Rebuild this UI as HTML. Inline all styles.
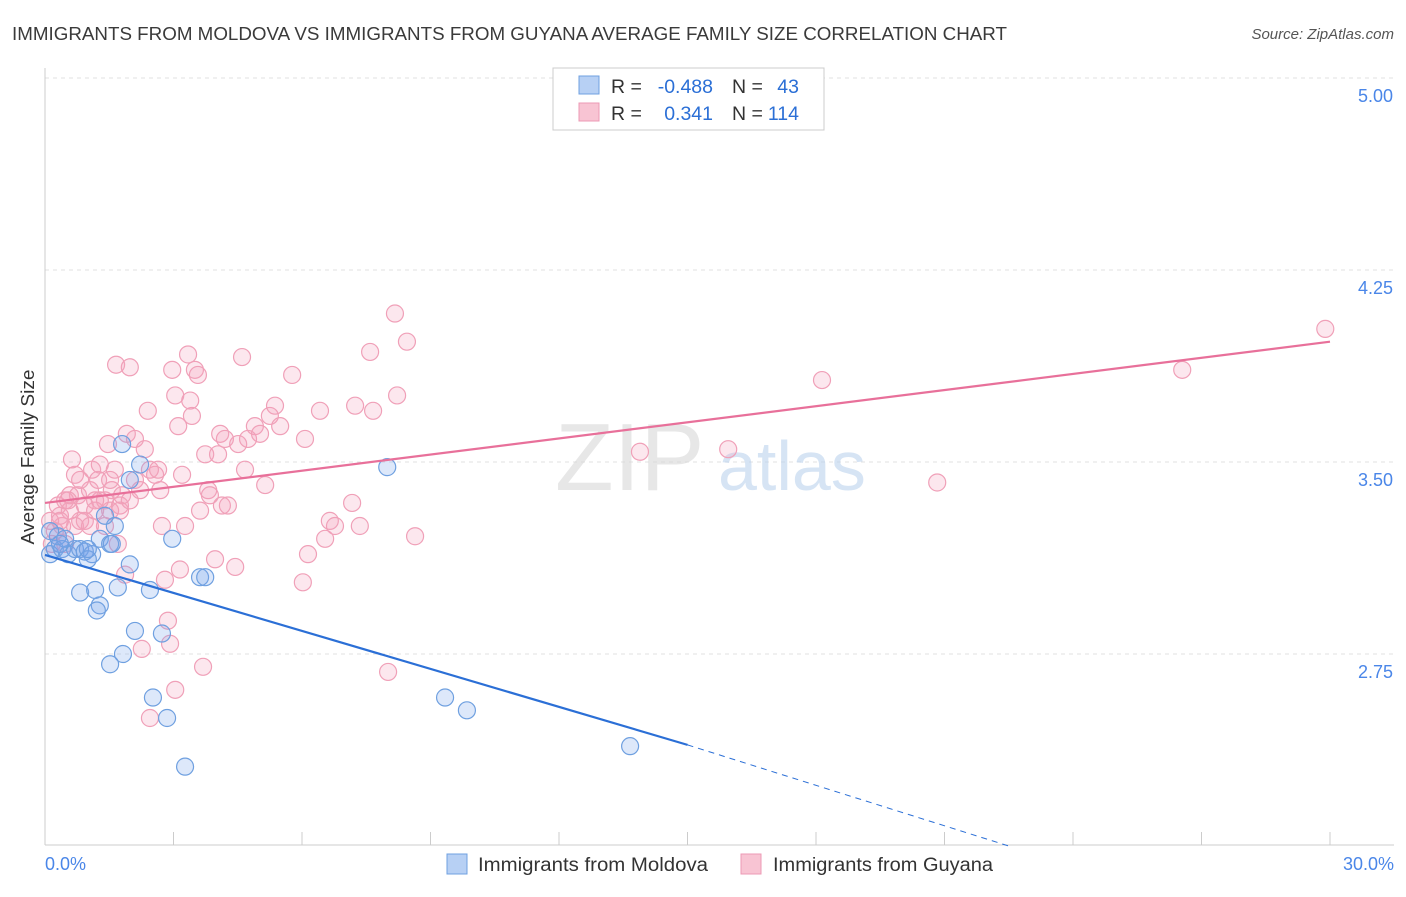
<!DOCTYPE html>
<html><head><meta charset="utf-8">
<style>
body{margin:0;background:#fff;font-family:"Liberation Sans",sans-serif;}
svg text{font-family:"Liberation Sans",sans-serif;}
</style></head>
<body>
<svg id="chart" width="1406" height="892" viewBox="0 0 1406 892" xmlns="http://www.w3.org/2000/svg">
<text x="12" y="40" font-size="18.5" fill="#3a3a3a" textLength="995" lengthAdjust="spacingAndGlyphs">IMMIGRANTS FROM MOLDOVA VS IMMIGRANTS FROM GUYANA AVERAGE FAMILY SIZE CORRELATION CHART</text>
<text x="1394" y="39" font-size="15" fill="#555" font-style="italic" text-anchor="end">Source: ZipAtlas.com</text>
<g id="grid"></g>
<text x="555" y="490" font-size="96" fill="#d8d8d8" font-family="Liberation Serif" opacity="0.6">ZIP</text>
<text x="718" y="490" font-size="70" fill="#bcd3ee" opacity="0.6">atlas</text>
<g id="points"></g>
<g id="trends"></g>
<text transform="translate(34,457) rotate(-90)" font-size="18" fill="#333" text-anchor="middle" textLength="175" lengthAdjust="spacingAndGlyphs">Average Family Size</text>
<g>
<rect x="553" y="68" width="271" height="62" fill="#fff" stroke="#ccc"/>
<rect x="579" y="76" width="20" height="18" fill="#b7d0f4" stroke="#6fa0e0"/>
<rect x="579" y="103" width="20" height="18" fill="#f8c4d3" stroke="#ec9ab4"/>
<text x="611" y="93" font-size="19.5" fill="#333">R =</text>
<text x="713" y="93" font-size="19.5" fill="#2b6fd6" text-anchor="end">-0.488</text>
<text x="732" y="93" font-size="19.5" fill="#333">N =</text>
<text x="799" y="93" font-size="19.5" fill="#2b6fd6" text-anchor="end">43</text>
<text x="611" y="120" font-size="19.5" fill="#333">R =</text>
<text x="713" y="120" font-size="19.5" fill="#2b6fd6" text-anchor="end">0.341</text>
<text x="732" y="120" font-size="19.5" fill="#333">N =</text>
<text x="799" y="120" font-size="19.5" fill="#2b6fd6" text-anchor="end">114</text>
</g>
<g>
<rect x="447" y="854" width="20" height="20" fill="#b7d0f4" stroke="#6fa0e0"/>
<text x="478" y="871" font-size="19" fill="#333" textLength="230" lengthAdjust="spacingAndGlyphs">Immigrants from Moldova</text>
<rect x="741" y="854" width="20" height="20" fill="#f8c4d3" stroke="#ec9ab4"/>
<text x="773" y="871" font-size="19" fill="#333" textLength="220" lengthAdjust="spacingAndGlyphs">Immigrants from Guyana</text>
</g>
</svg>
<script>
const yTicks=[5.00,4.25,3.50,2.75];
const yTickLabels=["5.00","4.25","3.50","2.75"];
const xTickLabels=["0.0%","30.0%"];
const moldovaX=[0.12,0.23,0.40,0.54,0.70,0.82,0.93,1.10,0.30,0.47,1.28,1.52,1.00,1.98,1.80,2.22,1.63,1.56,1.98,0.82,1.17,1.28,1.21,1.70,2.45,2.97,3.62,3.74,2.10,2.73,1.82,1.52,2.52,2.85,3.27,7.99,9.34,9.85,13.66,0.12,0.35,1.40,1.00];
const moldovaY=[3.14,3.16,3.16,3.14,3.16,3.16,3.15,3.14,3.21,3.20,3.20,3.18,3.12,3.43,3.57,3.49,3.25,3.18,3.10,2.99,3.00,2.94,2.92,3.01,3.00,3.20,3.05,3.05,2.84,2.83,2.75,2.71,2.58,2.50,2.31,3.48,2.58,2.53,2.39,3.23,3.18,3.29,3.16];
const guyanaX=[0.12,0.23,0.35,0.16,0.30,0.40,0.47,0.58,0.70,0.63,0.77,0.82,0.93,1.05,1.10,1.17,1.24,1.28,1.40,1.47,1.52,1.56,1.63,1.70,1.75,1.80,1.87,1.91,1.98,2.10,2.22,2.33,2.40,2.45,2.57,2.64,2.69,2.73,2.80,2.87,2.92,2.97,3.04,3.11,3.15,3.20,3.27,3.34,3.39,3.43,3.50,3.57,3.62,3.74,3.81,3.85,3.97,4.04,4.09,4.13,4.20,4.27,4.44,4.51,4.60,4.67,4.74,4.90,5.02,5.14,5.25,5.37,5.49,5.77,6.07,6.14,6.02,6.42,6.54,6.65,6.77,7.17,7.24,7.35,7.59,7.66,8.17,8.22,8.45,8.64,8.01,13.89,15.95,18.14,20.83,26.55,29.89,1.66,1.98,2.45,3.04,3.69,2.26,2.10,0.93,0.58,0.35,1.28,1.75,1.52,0.82,1.17,0.54,0.70,1.40,0.47,1.05];
const guyanaY=[3.27,3.23,3.29,3.18,3.33,3.25,3.35,3.31,3.45,3.51,3.37,3.27,3.33,3.39,3.47,3.31,3.43,3.49,3.35,3.57,3.31,3.39,3.47,3.18,3.33,3.37,3.06,3.61,3.35,3.43,3.39,3.55,3.70,3.47,3.45,3.47,3.39,3.25,3.04,2.88,2.79,3.86,3.76,3.64,3.08,3.45,3.25,3.92,3.74,3.68,3.86,3.84,3.31,3.53,3.39,3.37,3.12,3.53,3.61,3.33,3.59,3.33,3.09,3.57,3.91,3.47,3.59,3.64,3.61,3.41,3.68,3.72,3.64,3.84,3.59,3.14,3.03,3.70,3.20,3.27,3.25,3.34,3.72,3.25,3.93,3.70,4.08,3.76,3.97,3.21,2.68,3.54,3.55,3.82,3.42,3.86,4.02,3.88,3.87,2.50,2.61,2.70,2.77,3.59,3.27,3.37,3.27,3.35,3.31,3.43,3.43,3.35,3.35,3.25,3.25,3.18,3.25];
const moldovaTrend=[[0,3.137],[15,2.395],[22.5,2.00]];
const guyanaTrend=[[0,3.34],[30,3.97]];

const NS="http://www.w3.org/2000/svg";
const X=v=>45+v*(1285/30);
const Y=v=>462-(v-3.5)*256;
function mk(t,a,p){const e=document.createElementNS(NS,t);for(const k in a)e.setAttribute(k,a[k]);p.appendChild(e);return e;}
const grid=document.getElementById('grid');
yTicks.forEach((t,i)=>{
  const l=mk('line',{x1:45,x2:1394,y1:Y(t),y2:Y(t),stroke:'#e2e2e2','stroke-dasharray':'4,4'},grid);
  
  
  const tx=mk('text',{x:1393,y:Y(t)+24,'font-size':18,fill:'#4a86e8','text-anchor':'end'},grid);
  tx.textContent=yTickLabels[i];
  
  
});
const ax=mk('line',{x1:45,x2:1394,y1:845,y2:845,stroke:'#ccc'},grid);


const ay=mk('line',{x1:45,x2:45,y1:68,y2:845,stroke:'#ccc'},grid);


for(let i=0;i<=10;i++){
  const t=mk('line',{x1:X(i*3),x2:X(i*3),y1:845,y2:832,stroke:'#ccc'},grid);
  
  
}
const xl0=mk('text',{x:45,y:870,'font-size':18,fill:'#4a86e8'},grid);
xl0.textContent=xTickLabels[0];


const xl1=mk('text',{x:1394,y:870,'font-size':18,fill:'#4a86e8','text-anchor':'end'},grid);
xl1.textContent=xTickLabels[1];



const pts=document.getElementById('points');
guyanaX.forEach((x,i)=>{
  const c=mk('circle',{cx:X(x),cy:Y(guyanaY[i]),r:8.5,fill:'rgba(244,160,188,0.25)',stroke:'#f0a0b8','stroke-width':1.2},pts);
  
  
});
moldovaX.forEach((x,i)=>{
  const c=mk('circle',{cx:X(x),cy:Y(moldovaY[i]),r:8.5,fill:'rgba(120,165,235,0.25)',stroke:'#6fa0e0','stroke-width':1.2},pts);
  
  
});
const tr=document.getElementById('trends');
const pl=mk('line',{x1:X(guyanaTrend[0][0]),y1:Y(guyanaTrend[0][1]),x2:X(guyanaTrend[1][0]),y2:Y(guyanaTrend[1][1]),stroke:'#e8709a','stroke-width':2.2},tr);


const bl=mk('line',{x1:X(moldovaTrend[0][0]),y1:Y(moldovaTrend[0][1]),x2:X(moldovaTrend[1][0]),y2:Y(moldovaTrend[1][1]),stroke:'#2b6fd6','stroke-width':2.2},tr);


const bd=mk('line',{x1:X(moldovaTrend[1][0]),y1:Y(moldovaTrend[1][1]),x2:X(moldovaTrend[2][0]),y2:Y(moldovaTrend[2][1]),stroke:'#2b6fd6','stroke-width':1,'stroke-dasharray':'6,5'},tr);


</script>
</body></html>
